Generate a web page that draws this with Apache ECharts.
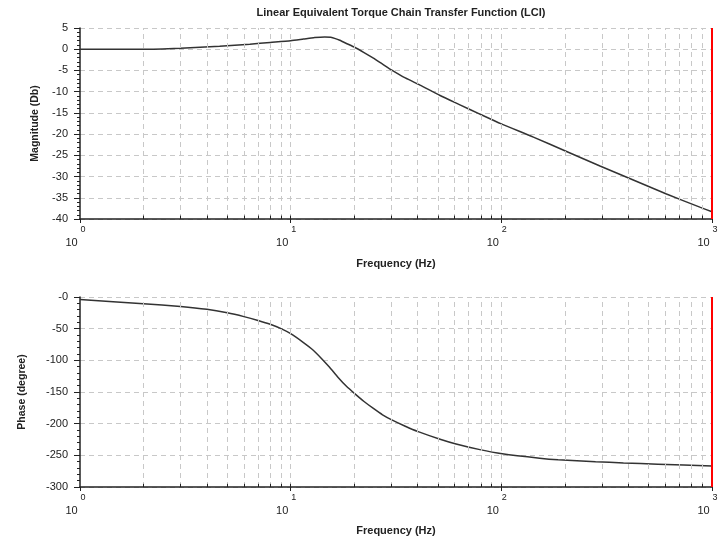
<!DOCTYPE html>
<html><head><meta charset="utf-8">
<script src="https://cdn.jsdelivr.net/npm/echarts@6/dist/echarts.min.js"></script>
<style>html,body{margin:0;padding:0;background:#fff}#c{width:718px;height:539px}</style>
</head><body><div id="c"></div>
<script>
const chartTitle = 'Linear Equivalent Torque Chain Transfer Function (LCI)';
const xName = 'Frequency (Hz)';
const magName = 'Magnitude (Db)';
const phaseName = 'Phase (degree)';

const magFreq = [1, 2, 3, 4.6, 6.4, 8, 10, 11.5, 13, 14.5, 15.5, 16.3, 17.1, 18.5, 20.2, 22.3, 24.7, 27.3, 30.2, 35, 41.1, 51.2, 63.6, 79.1, 100, 142, 204, 294, 423, 608, 875, 1000];
const magDb   = [0, 0, 0.25, 0.7, 1.2, 1.6, 2.0, 2.4, 2.75, 2.9, 2.8, 2.5, 2.1, 1.3, 0.4, -0.8, -2.1, -3.5, -4.9, -6.75, -8.45, -10.9, -13.1, -15.3, -17.6, -20.7, -24.1, -27.5, -30.8, -34.1, -37.2, -38.3];

const phaseFreq = [1, 2, 3, 4, 5, 6, 7, 8, 9, 10, 11.5, 12.8, 14, 15.3, 16.8, 18.4, 20.2, 22.3, 24.7, 27.3, 30.2, 35, 40.3, 51.2, 61, 79.1, 101, 152, 186, 280, 380, 553, 1000];
const phaseDeg  = [-4, -10.5, -15, -19.5, -25, -31, -37, -43, -50, -58, -72, -84, -97, -111, -127, -141, -153, -165, -176, -186, -194, -204, -212.5, -224.5, -232, -241, -247.5, -254.5, -257, -260, -262, -264, -267];

const decades = [1, 10, 100];
const minorMultipliers = [2, 3, 4, 5, 6, 7, 8, 9];
const magRange = [-40, 5, 5];
const phaseRange = [-300, 0, 50];

const gridVals = [];
decades.forEach(d => { if (d > 1) gridVals.push(d); minorMultipliers.forEach(k => gridVals.push(k * d)); });

const FONT = '"Liberation Sans", Arial, sans-serif';

function marks(yMin, tickLen) {
  const data = [];
  gridVals.forEach(v => data.push({ xAxis: v, lineStyle: { color: '#c8c8c8', type: [5, 4], width: 1 } }));
  gridVals.forEach(v => data.push([{ coord: [v, yMin], lineStyle: { color: '#222', type: 'solid', width: 1 } }, { coord: [v, yMin + tickLen] }]));
  data.push({ xAxis: 1000, lineStyle: { color: '#ff0000', type: 'solid', width: 2 } });
  return { symbol: ['none', 'none'], silent: true, animation: false, label: { show: false }, data };
}

function xAxisCfg(idx, gap) {
  return {
    type: 'log', logBase: 10, min: 1, max: 1000, gridIndex: idx,
    name: xName, nameLocation: 'middle', nameGap: gap,
    nameTextStyle: { fontFamily: FONT, fontWeight: 'bold', fontSize: 11, color: '#222' },
    axisLine: { show: true, onZero: false, lineStyle: { color: '#222', width: 1.5 } },
    axisTick: { show: true, length: 4, lineStyle: { color: '#222' } },
    splitLine: { show: false },
    minorTick: { show: false },
    axisLabel: {
      margin: 5,
      formatter: v => '{e|' + Math.round(Math.log10(v)) + '}\n{b|10}',
      rich: {
        e: { fontFamily: FONT, fontSize: 9, color: '#222', padding: [0, 0, 0, 6], lineHeight: 11 },
        b: { fontFamily: FONT, fontSize: 11, color: '#222', padding: [0, 17, 0, 0], lineHeight: 16 }
      }
    }
  };
}

function yAxisCfg(idx, range, name, gap, fmt) {
  return {
    type: 'value', gridIndex: idx, min: range[0], max: range[1], interval: range[2],
    name: name, nameLocation: 'middle', nameGap: gap,
    nameTextStyle: { fontFamily: FONT, fontWeight: 'bold', fontSize: 10.5, color: '#222' },
    axisLine: { show: true, lineStyle: { color: '#222', width: 1.5 } },
    axisTick: { show: true, length: 6, lineStyle: { color: '#222' } },
    minorTick: { show: true, splitNumber: 5, length: 3, lineStyle: { color: '#222' } },
    splitLine: { show: true, lineStyle: { color: '#c8c8c8', type: [5, 4] } },
    axisLabel: { margin: 12, fontFamily: FONT, fontSize: 11, color: '#222', formatter: fmt }
  };
}

const chart = echarts.init(document.getElementById('c'), null, { renderer: 'canvas' });
chart.setOption({
  animation: false,
  backgroundColor: '#fff',
  title: { text: chartTitle, left: 396, top: 2, textAlign: 'center',
    textStyle: { fontFamily: FONT, fontWeight: 'bold', fontSize: 11, color: '#222' } },
  grid: [
    { left: 80, top: 28, width: 632, height: 191, containLabel: false, outerBoundsMode: 'none' },
    { left: 80, top: 297, width: 632, height: 190, containLabel: false, outerBoundsMode: 'none' }
  ],
  xAxis: [xAxisCfg(0, 39), xAxisCfg(1, 38)],
  yAxis: [
    yAxisCfg(0, magRange, magName, 39, v => String(v)),
    yAxisCfg(1, phaseRange, phaseName, 52, v => (v === 0 ? '-0' : String(v)))
  ],
  series: [
    { type: 'line', xAxisIndex: 0, yAxisIndex: 0, data: magFreq.map((f, i) => [f, magDb[i]]),
      showSymbol: false, smooth: 0.2, lineStyle: { color: '#333', width: 1.5 }, markLine: marks(magRange[0], 0.8) },
    { type: 'line', xAxisIndex: 1, yAxisIndex: 1, data: phaseFreq.map((f, i) => [f, phaseDeg[i]]),
      showSymbol: false, smooth: 0.2, lineStyle: { color: '#333', width: 1.5 }, markLine: marks(phaseRange[0], 5) }
  ]
});
</script>
</body></html>
